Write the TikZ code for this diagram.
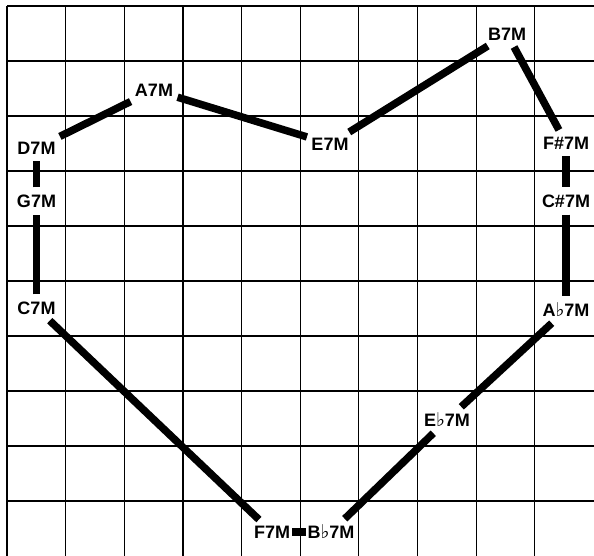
\documentclass[tikz,border=0pt]{standalone}
\usepackage{fontspec}
\setsansfont{Liberation Sans}
\newfontfamily\flatfont{DejaVu Sans}
\usetikzlibrary{positioning}
\newcommand{\fl}{{\flatfont\bfseries\fontsize{19}{19}\selectfont ♭}}

\begin{document}
\begin{tikzpicture}[
      x=1pt, y=-1pt,
      every node/.style={font=\sffamily\bfseries\fontsize{18}{18}\selectfont},
      chord/.style={inner xsep=1.5pt, inner ysep=4pt},
      link/.style={line width=7.5pt, shorten <=3pt, shorten >=3pt},
      tie/.style={line width=7.5pt},
      gridline/.style={line width=1.1pt},
    ]
    \useasboundingbox (0,0) rectangle (594,556);
    % grid
    \foreach \i in {0,...,9}
      \draw[gridline] (7+58.65*\i,6) -- (7+58.65*\i,560);
    \foreach \j in {0,...,9}
      \draw[gridline] (7,6+55*\j) -- (600,6+55*\j);

    % chords
    \node[chord] (a7) at (154,90) {A7M};
    \node[chord] (d7) at (36.5,148) {D7M};
    \node[chord] (g7) at (36.5,201) {G7M};
    \node[chord] (c7) at (36.5,308) {C7M};
    \node[chord] (e7) at (330,144) {E7M};
    \node[chord] (b7) at (507,34) {B7M};
    \node[chord] (fs7) at (566,143) {F\#7M};
    \node[chord] (cs7) at (566,201) {C\#7M};
    \node[chord] (ab7) at (566,310) {A\fl7M};
    \node[chord] (eb7) at (447,420) {E\fl7M};
    \node[chord] (f7) at (272,532) {F7M};
    \node[chord] (bb7) at (331,532) {B\fl7M};

    % links
    \draw[link] (d7) -- (a7);
    \draw[link] (a7) -- (e7);
    \draw[link] (e7) -- (b7);
    \draw[link] (b7) -- (fs7);
    \draw[link] (fs7) -- (cs7);
    \draw[link] (cs7) -- (ab7);
    \draw[link] (ab7) -- (eb7);
    \draw[link] (eb7) -- (bb7);
    \draw[tie] (bb7) -- (f7);
    \draw[link] (f7) -- (c7);
    \draw[link] (c7) -- (g7);
    \draw[link] (g7) -- (d7);
  \end{tikzpicture}
\end{document}
